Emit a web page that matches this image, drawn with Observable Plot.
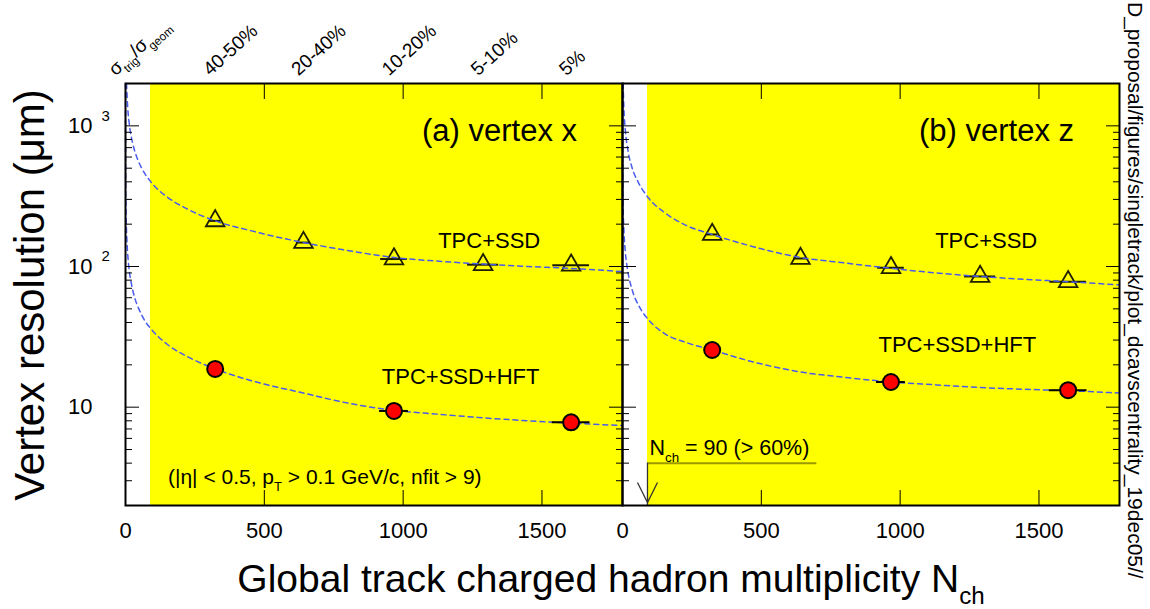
<!DOCTYPE html>
<html><head><meta charset="utf-8">
<script src="https://cdn.jsdelivr.net/npm/d3@7"></script>
<script src="https://cdn.jsdelivr.net/npm/@observablehq/plot@0.6"></script>
<style>html,body{margin:0;padding:0;background:#fff;overflow:hidden;} #chart{width:1150px;height:609px;}</style>
</head><body><div id="chart"></div>
<script>
// ---- data ----
const panels = ["a", "b"];
const panelTitles = ["(a) vertex x", "(b) vertex z"];
const centralityNch = [323, 641, 967, 1288, 1605];
const centralityLabels = ["40-50%", "20-40%", "10-20%", "5-10%", "5%"];
const tpcSsdX = [211, 148, 113, 103, 102];
const tpcSsdZ = [169, 114, 98, 85, 78];
const tpcSsdNchErr = [20, 25, 48, 56, 66];
const hftNch = [323, 967, 1605];
const hftX = [18.7, 9.4, 7.8];
const hftZ = [25.5, 15.1, 13.2];
const hftNchErr = [20, 52, 68];
// dashed fit curves [Nch, resolution]
const fitTpcSsdX = [[3.6,2000],[8,1350],[15,985],[26,750],[38,620],[60,493],[92,398],[150,312],[220,258],[323,211],[450,180],[641,148],[800,130],[967,116],[1130,109],[1288,104],[1450,100],[1605,97],[1790,92]];
const fitHftX = [[0.03,2000],[0.08,1220],[0.2,770],[0.5,490],[1,345],[2.5,218],[5,154],[9,115],[14,92],[22,74],[31,62],[50,49],[70,41],[92,36],[150,28],[230,22.5],[323,18.7],[450,15.5],[641,12.6],[800,10.7],[967,9.5],[1130,8.9],[1288,8.4],[1450,8.0],[1605,7.7],[1790,7.4]];
const fitTpcSsdZ = [[2.2,2000],[5,1330],[10,940],[20,665],[35,500],[56,400],[93,308],[150,243],[220,200],[323,169],[450,142],[641,116],[800,106],[967,97],[1130,90],[1288,85],[1450,81],[1605,78],[1790,74]];
const fitHftZ = [[0.05,2000],[0.15,1100],[0.4,650],[1,405],[2.5,255],[5,180],[10,128],[19,93],[35,68],[60,52],[93,42],[150,33.5],[230,28.8],[323,25.5],[450,21.5],[641,17.8],[800,16.3],[967,15.1],[1130,14.4],[1288,13.8],[1450,13.4],[1605,13.1],[1790,12.6]];
const nchCut = 90, nchCutLine = 700, nchMax = 1790;
const resMin = 2, resMax = 2000;
const yMajor = [10, 100, 1000];
const yMinor = [2,3,4,5,6,7,8,9,20,30,40,50,60,70,80,90,200,300,400,500,600,700,800,900,2000];
const ySup = [["3", 1000], ["2", 100]];
const xMajor = [0, 500, 1000, 1500];

// ---- tables for the library ----
const panelRows = panels.map(p => ({panel: p}));
const tri = panels.flatMap((p, i) => centralityNch.map((n, j) => ({panel: p, nch: n, v: (i ? tpcSsdZ : tpcSsdX)[j], err: tpcSsdNchErr[j]})));
const hft = panels.flatMap((p, i) => hftNch.map((n, j) => ({panel: p, nch: n, v: (i ? hftZ : hftX)[j], err: hftNchErr[j]})));
const fits = [["a","u",fitTpcSsdX],["a","l",fitHftX],["b","u",fitTpcSsdZ],["b","l",fitHftZ]]
  .flatMap(([p, s, arr]) => arr.map(([n, v]) => ({panel: p, series: p + s, nch: n, v})));
const topLabels = centralityNch.map((n, j) => ({panel: "a", nch: n, text: centralityLabels[j]}));
const xTicks = panels.flatMap(p => xMajor.map(v => ({panel: p, v})));
const yLabels = yMajor.map(v => ({panel: "a", v}));
const ySupRows = ySup.map(([s, v]) => ({panel: "a", s, v}));

const font = "'Liberation Sans', Arial, Helvetica, sans-serif";
const tickOpts = {facetAnchor: null, tickFormat: () => "", label: null, stroke: "#000", strokeWidth: 1};
// open "V" arrow head, tip at the anchor point
const arrowHead = {draw(ctx, size) { const r = Math.sqrt(size / Math.PI); ctx.moveTo(-0.5 * r, -r); ctx.lineTo(0, 0); ctx.lineTo(0.5 * r, -r); }};

const chart = Plot.plot({
  width: 1150, height: 609,
  marginLeft: 124, marginRight: 31, marginTop: 83, marginBottom: 104,
  style: {fontFamily: font, background: "#fff", color: "#000"},
  fx: {domain: panels, padding: 0, axis: null, label: null},
  x: {domain: [0, nchMax]},
  y: {type: "log", domain: [resMin, resMax]},
  marks: [
    Plot.rect(panelRows, {fx: "panel", x1: nchCut, x2: nchMax, y1: resMin, y2: resMax, fill: "#ffff00"}),
    Plot.ruleY(tri, {fx: "panel", y: "v", x1: d => d.nch - d.err, x2: d => d.nch + d.err, stroke: "#1a1a00", strokeWidth: 2}),
    Plot.dot(tri, {fx: "panel", x: "nch", y: "v", symbol: "triangle", r: 6.9, stroke: "#1f1f00", strokeWidth: 1.8, fill: "none"}),
    Plot.line(fits, {fx: "panel", x: "nch", y: "v", z: "series", stroke: "#4a5cec", strokeWidth: 1.5, strokeDasharray: "5,4", curve: "monotone-x"}),
    Plot.ruleY(hft, {fx: "panel", y: "v", x1: d => d.nch - d.err, x2: d => d.nch + d.err, stroke: "#000", strokeWidth: 2}),
    Plot.dot(hft, {fx: "panel", x: "nch", y: "v", r: 8, fill: "#ff0000", stroke: "#000", strokeWidth: 2}),
    // annotations
    Plot.text(panelRows, {fx: "panel", x: 1347, y: 920, text: d => panelTitles[panels.indexOf(d.panel)], fontSize: 31, lineAnchor: "middle"}),
    Plot.text(panelRows, {fx: "panel", x: 1310, y: 153, text: () => "TPC+SSD", fontSize: 22, lineAnchor: "middle"}),
    Plot.text([{panel: "a"}], {fx: "panel", x: 1207, y: 16.4, text: () => "TPC+SSD+HFT", fontSize: 22, lineAnchor: "middle"}),
    Plot.text([{panel: "b"}], {fx: "panel", x: 1206, y: 27.7, text: () => "TPC+SSD+HFT", fontSize: 22, lineAnchor: "middle"}),
    Plot.text([{panel: "a"}], {fx: "panel", x: 153, y: 3.16, text: () => "(|η| < 0.5, p_{T} > 0.1 GeV/c, nfit > 9)", fontSize: 21, textAnchor: "start", lineAnchor: "middle"}),
    Plot.text([{panel: "b"}], {fx: "panel", x: nchCut, y: 5.1, dx: 2, text: () => "N_{ch} = 90 (> 60%)", fontSize: 21.5, textAnchor: "start", lineAnchor: "middle"}),
    Plot.ruleY([{panel: "b"}], {fx: "panel", y: 4.0, x1: nchCut, x2: nchCutLine, stroke: "#9a9a00", strokeWidth: 2}),
    Plot.ruleX([{panel: "b"}], {fx: "panel", x: nchCut, y1: resMin, y2: 4.0, stroke: "#333", strokeWidth: 1.3}),
    Plot.dot([{panel: "b"}], {fx: "panel", x: nchCut, y: resMin, dy: -3, symbol: arrowHead, r: 20, fill: "none", stroke: "#333", strokeWidth: 1.3}),
    // centrality labels on top
    Plot.text(topLabels, {fx: "panel", x: "nch", text: "text", frameAnchor: "top", dx: -5, dy: -7, rotate: -42, textAnchor: "start", lineAnchor: "bottom", fontSize: 19}),
    Plot.text([{panel: "a"}], {fx: "panel", x: 0, text: () => "σ_{trig}/σ_{geom}", frameAnchor: "top", dx: -10, dy: -7, rotate: -42, textAnchor: "start", lineAnchor: "bottom", fontSize: 19}),
    // tick labels
    Plot.text(xTicks, {fx: "panel", x: "v", text: d => String(d.v), frameAnchor: "bottom", dy: 17, lineAnchor: "top", fontSize: 22}),
    Plot.text(yLabels, {fx: "panel", y: "v", text: () => "10", frameAnchor: "left", dx: -33, textAnchor: "end", lineAnchor: "middle", fontSize: 22}),
    Plot.text(ySupRows, {fx: "panel", y: "v", text: "s", frameAnchor: "left", dx: -24, dy: -10, textAnchor: "start", lineAnchor: "middle", fontSize: 15}),
    // inward ticks on all four sides
    Plot.axisY({anchor: "left", ticks: yMinor, tickSize: 7, dx: 7, ...tickOpts}),
    Plot.axisY({anchor: "left", ticks: yMajor, tickSize: 14, dx: 14, ...tickOpts}),
    Plot.axisY({anchor: "right", ticks: yMinor, tickSize: 7, dx: -7, ...tickOpts}),
    Plot.axisY({anchor: "right", ticks: yMajor, tickSize: 14, dx: -14, ...tickOpts}),
    Plot.axisX({anchor: "bottom", ticks: xMajor, tickSize: 15, dy: -15, ...tickOpts}),
    Plot.axisX({anchor: "top", ticks: xMajor, tickSize: 15, dy: 15, ...tickOpts}),
    Plot.frame({stroke: "#000", strokeWidth: 2})
  ]
});
document.getElementById("chart").appendChild(chart);

const svg = d3.select(chart);
svg.append("text").attr("transform", "translate(44,295) rotate(-90)").attr("text-anchor", "middle")
  .attr("font-size", 42).text("Vertex resolution (μm)");
svg.append("text").attr("x", 611).attr("y", 592).attr("text-anchor", "middle")
  .attr("font-size", 39).text("Global track charged hadron multiplicity N_{ch}");
svg.append("text").attr("transform", "translate(1128,2) rotate(90)").attr("text-anchor", "start")
  .attr("font-size", 21).text("D_proposal/figures/singletrack/plot_dcavscentrality_19dec05//");

// sub/superscripts: turn _{..} and ^{..} into tspans
chart.querySelectorAll("text").forEach(t => {
  const s = t.textContent;
  if (!/[_^]\{/.test(s)) return;
  const fs = parseFloat(getComputedStyle(t).fontSize) || 16;
  while (t.firstChild) t.removeChild(t.firstChild);
  const re = /([_^])\{([^}]*)\}/g;
  let last = 0, m, shift = 0;
  const add = (str, kind) => {
    const ts = document.createElementNS("http://www.w3.org/2000/svg", "tspan");
    ts.textContent = str;
    const target = kind === "_" ? 0.3 * fs : kind === "^" ? -0.45 * fs : 0;
    if (target - shift) ts.setAttribute("dy", target - shift);
    shift = target;
    if (kind) ts.setAttribute("font-size", 0.62 * fs);
    t.appendChild(ts);
  };
  while ((m = re.exec(s))) {
    if (m.index > last) add(s.slice(last, m.index), null);
    add(m[2], m[1]);
    last = re.lastIndex;
  }
  if (last < s.length) add(s.slice(last), null);
});
</script>
</body></html>
